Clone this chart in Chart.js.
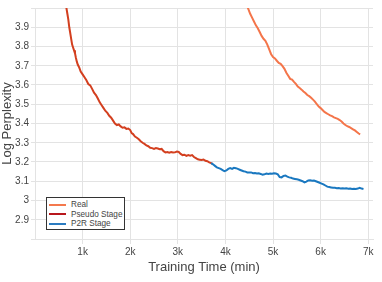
<!DOCTYPE html>
<html>
<head>
<meta charset="utf-8">
<script src="https://cdn.jsdelivr.net/npm/chart.js@4/dist/chart.umd.min.js"></script>
<style>
    body { margin: 0; background: #fff; }
    #wrap { position: relative; width: 382px; height: 282px; }
    #legend {
        position: absolute; left: 46px; top: 197px; width: 77px; height: 29px;
        border: 1px solid #333; background: #fff; padding-top: 2px;
        font: 8.2px 'Liberation Sans', Arial, sans-serif; color: #444;
    }
    .row { display: flex; align-items: center; height: 9.6px; line-height: 9.6px; white-space: nowrap; }
    .swatch { flex: none; width: 17px; height: 2px; margin: 0 5px 0 2px; }
</style>
</head>
<body>
<div id="wrap">
    <canvas id="chart" width="382" height="282"></canvas>
    <div id="legend"></div>
</div>
<script>
const xTicks = [1000, 2000, 3000, 4000, 5000, 6000, 7000];

const realTime = [4440, 4480, 4520, 4560, 4600, 4640, 4680, 4720, 4760, 4800, 4840, 4880, 4920, 4960, 5000,
    5040, 5080, 5120, 5160, 5200, 5240, 5280, 5320, 5360, 5400, 5440, 5480, 5520, 5560, 5600, 5640, 5680,
    5720, 5760, 5800, 5840, 5880, 5920, 5960, 6000, 6040, 6080, 6120, 6160, 6200, 6240, 6280, 6320, 6360,
    6400, 6440, 6480, 6520, 6560, 6600, 6640, 6680, 6720, 6760, 6800, 6830];
const realLogPpl = [4.02, 3.995, 3.97, 3.95, 3.93, 3.91, 3.895, 3.875, 3.855, 3.84, 3.83, 3.81, 3.785, 3.76, 3.745,
    3.738, 3.726, 3.715, 3.71, 3.698, 3.684, 3.664, 3.648, 3.632, 3.628, 3.616, 3.606, 3.592, 3.584, 3.576, 3.566, 3.558,
    3.548, 3.542, 3.534, 3.524, 3.514, 3.5, 3.488, 3.48, 3.47, 3.46, 3.454, 3.448, 3.442, 3.438, 3.432, 3.428, 3.424,
    3.418, 3.41, 3.4, 3.392, 3.386, 3.382, 3.376, 3.37, 3.364, 3.356, 3.348, 3.344];

const pseudoTime = [640, 680, 700, 720, 740, 760, 780, 800, 820, 840, 860, 880, 900, 930, 960, 1000, 1040, 1080,
    1120, 1160, 1200, 1240, 1280, 1320, 1360, 1400, 1440, 1480, 1520, 1560, 1600, 1640, 1680, 1720, 1760, 1800,
    1840, 1880, 1920, 1960, 2000, 2030, 2060, 2100, 2140, 2180, 2220, 2260, 2300, 2340, 2380, 2420, 2460, 2500,
    2540, 2580, 2620, 2660, 2700, 2740, 2780, 2820, 2860, 2900, 2940, 2980, 3020, 3060, 3100, 3140, 3180, 3220,
    3260, 3300, 3340, 3380, 3420, 3460, 3500, 3540, 3580, 3620, 3660, 3700, 3730];
const pseudoLogPpl = [4.03, 3.97, 3.94, 3.9, 3.87, 3.84, 3.81, 3.795, 3.78, 3.765, 3.74, 3.72, 3.705, 3.69, 3.67, 3.655, 3.64, 3.625,
    3.605, 3.598, 3.58, 3.56, 3.548, 3.53, 3.51, 3.495, 3.48, 3.465, 3.455, 3.44, 3.43, 3.415, 3.4, 3.392, 3.395, 3.385,
    3.378, 3.38, 3.372, 3.374, 3.366, 3.35, 3.345, 3.332, 3.326, 3.318, 3.308, 3.3, 3.294, 3.286, 3.282, 3.274, 3.272, 3.268,
    3.272, 3.27, 3.266, 3.268, 3.256, 3.25, 3.252, 3.248, 3.252, 3.249, 3.25, 3.254, 3.252, 3.242, 3.236, 3.238, 3.232, 3.236,
    3.233, 3.236, 3.226, 3.22, 3.214, 3.212, 3.21, 3.213, 3.206, 3.204, 3.198, 3.194, 3.19];

const p2rTime = [3700, 3740, 3780, 3820, 3860, 3900, 3940, 3980, 4020, 4060, 4100, 4140, 4180, 4220, 4260, 4300,
    4340, 4380, 4420, 4460, 4500, 4540, 4580, 4620, 4660, 4700, 4740, 4780, 4820, 4860, 4900, 4940, 4980, 5020,
    5060, 5100, 5140, 5180, 5220, 5260, 5300, 5340, 5380, 5420, 5460, 5500, 5540, 5580, 5620, 5660, 5700, 5740,
    5780, 5820, 5860, 5900, 5940, 5980, 6020, 6060, 6100, 6140, 6180, 6220, 6260, 6300, 6340, 6380, 6420, 6460,
    6500, 6540, 6580, 6620, 6660, 6700, 6740, 6780, 6820, 6860, 6900];
const p2rLogPpl = [3.194, 3.188, 3.18, 3.172, 3.168, 3.164, 3.158, 3.152, 3.156, 3.164, 3.168, 3.164, 3.17, 3.168, 3.164, 3.16,
    3.156, 3.152, 3.15, 3.146, 3.145, 3.146, 3.142, 3.143, 3.14, 3.141, 3.138, 3.134, 3.136, 3.14, 3.138, 3.14, 3.139, 3.141,
    3.14, 3.136, 3.122, 3.12, 3.128, 3.13, 3.124, 3.12, 3.118, 3.114, 3.112, 3.11, 3.108, 3.104, 3.1, 3.094, 3.098, 3.104,
    3.105, 3.103, 3.104, 3.1, 3.096, 3.092, 3.088, 3.084, 3.078, 3.072, 3.07, 3.068, 3.066, 3.066, 3.064, 3.065, 3.063, 3.064,
    3.062, 3.063, 3.061, 3.062, 3.06, 3.061, 3.06, 3.062, 3.066, 3.062, 3.06];

const toPoints = (xs, ys) => xs.map((x, i) => ({ x: x, y: ys[i] }));

const gridColor = '#e3e3e3';
const textColor = '#444';
Chart.defaults.font.family = "'Liberation Sans', Arial, sans-serif";

const datasets = [
    { label: 'Real', data: toPoints(realTime, realLogPpl), borderColor: '#f4754a', legendColor: '#f4794d' },
    { label: 'P2R Stage', data: toPoints(p2rTime, p2rLogPpl), borderColor: '#1a78c0', legendColor: '#2b7bc0' },
    { label: 'Pseudo Stage', data: toPoints(pseudoTime, pseudoLogPpl), borderColor: '#d33f1f', legendColor: '#b8171c' }
];
datasets.forEach(d => {
    d.borderWidth = 2;
    d.pointRadius = 0;
    d.tension = 0;
    d.fill = false;
});

new Chart(document.getElementById('chart'), {
    type: 'line',
    data: { datasets: datasets },
    options: {
        responsive: false,
        animation: false,
        layout: { padding: { top: 6, right: 9, left: 0, bottom: 0 } },
        plugins: { legend: { display: false }, tooltip: { enabled: false } },
        scales: {
            x: {
                type: 'linear',
                min: 0,
                max: 7100,
                afterBuildTicks: scale => { scale.ticks = xTicks.map(v => ({ value: v })); },
                afterFit: scale => { scale.height = 43; },
                ticks: {
                    color: textColor, font: { size: 10 }, padding: 2, maxRotation: 0,
                    callback: v => (v / 1000) + 'k'
                },
                grid: { color: gridColor, tickLength: 5 },
                border: { color: gridColor },
                title: {
                    display: true, text: 'Training Time (min)', color: textColor,
                    font: { size: 13 }, padding: { top: 0, bottom: 7 }
                }
            },
            y: {
                min: 2.8,
                max: 4.0,
                afterFit: scale => { scale.width = 35; },
                ticks: {
                    stepSize: 0.1, color: textColor, font: { size: 10 }, padding: 2,
                    callback: v => {
                        const r = Math.round(v * 10) / 10;
                        return (r <= 2.8 || r >= 4.0) ? '' : String(r);
                    }
                },
                grid: { color: gridColor, tickLength: 4 },
                border: { color: gridColor },
                title: {
                    display: true, text: 'Log Perplexity', color: textColor,
                    font: { size: 13 }, padding: 0
                }
            }
        }
    }
});

// legend box in the lower left of the plot
const legend = document.getElementById('legend');
['Real', 'Pseudo Stage', 'P2R Stage'].forEach(name => {
    const d = datasets.find(ds => ds.label === name);
    const row = document.createElement('div');
    row.className = 'row';
    row.innerHTML = `<span class="swatch" style="background:${d.legendColor}"></span><span>${name}</span>`;
    legend.appendChild(row);
});
</script>
</body>
</html>
